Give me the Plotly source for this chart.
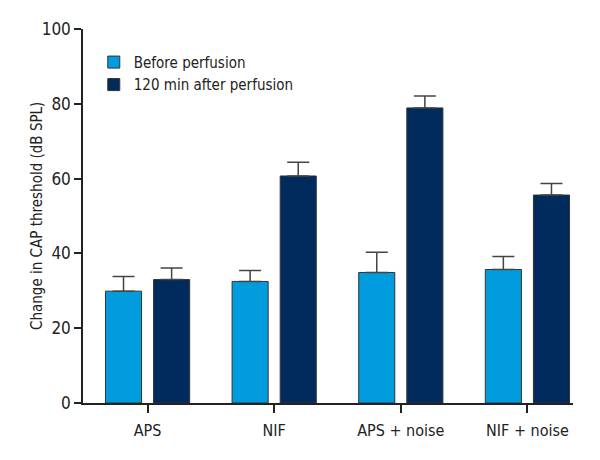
import plotly.graph_objects as go

categories = ["APS", "NIF", "APS + noise", "NIF + noise"]
before_vals = [29.9, 32.5, 34.9, 35.7]
before_err = [3.9, 2.9, 5.4, 3.5]
after_vals = [33.0, 60.7, 78.9, 55.6]
after_err = [3.1, 3.7, 3.2, 3.1]
series_names = ["Before perfusion", "120 min after perfusion"]
y_ticks = [0, 20, 40, 60, 80, 100]
y_title = "Change in CAP threshold (dB SPL)"

FONT = "Liberation Sans Narrow, DejaVu Sans Condensed, Roboto, sans-serif"

fig = go.Figure()
fig.add_trace(go.Bar(
    x=categories, y=before_vals, name=series_names[0],
    marker=dict(color="#009CDE", line=dict(color="#333333", width=1)),
    error_y=dict(type="data", array=before_err, arrayminus=[0]*4, symmetric=False,
                 color="#444444", thickness=1.5, width=11),
))
fig.add_trace(go.Bar(
    x=categories, y=after_vals, name=series_names[1],
    marker=dict(color="#002B5C", line=dict(color="#333333", width=1)),
    error_y=dict(type="data", array=after_err, arrayminus=[0]*4, symmetric=False,
                 color="#444444", thickness=1.5, width=11),
))

fig.add_annotation(text=y_title, xref="paper", yref="paper", x=-0.094, y=0.5,
                   xanchor="center", yanchor="middle", textangle=-90, showarrow=False,
                   font=dict(size=15, family=FONT, color="#222222"))

fig.update_layout(
    width=600, height=460,
    margin=dict(l=75, r=35, t=21, b=65),
    paper_bgcolor="white", plot_bgcolor="white",
    barmode="group", bargap=0.24, bargroupgap=0.25,
    font=dict(family=FONT, size=15, color="#222222"),
    showlegend=True,
    legend=dict(x=0.022, y=0.955, xanchor="left", yanchor="top",
                font=dict(size=15, family=FONT), bgcolor="rgba(0,0,0,0)",
                itemwidth=30, tracegroupgap=0),
    xaxis=dict(showline=True, linecolor="#222222", linewidth=1.5,
               ticks="outside", ticklen=8, tickcolor="#222222", tickwidth=1.5,
               tickfont=dict(size=16, family=FONT), range=[-0.51, 3.36],
               ticklabelstandoff=4, showgrid=False, zeroline=False),
    yaxis=dict(range=[0, 100], tickvals=y_ticks, showline=True, linecolor="#222222",
               linewidth=1.5, ticks="outside", ticklen=7, tickcolor="#222222", tickwidth=1.5,
               tickfont=dict(size=17, family=FONT), showgrid=False, zeroline=False),
)

fig.write_html("out.html")
